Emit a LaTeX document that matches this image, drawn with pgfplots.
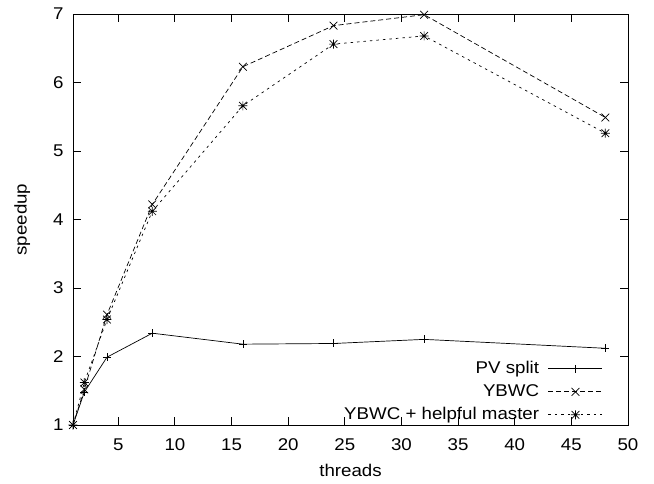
\documentclass[border=0pt]{standalone}
\usepackage{fontspec}
\setmainfont[FakeStretch=1.1]{Liberation Sans}
\usepackage{pgfplots}
\pgfplotsset{compat=1.18}

% gnuplot style star: a + and an x on top of each other
\pgfdeclareplotmark{gpstar}{%
  \pgfpathmoveto{\pgfqpoint{-\pgfplotmarksize}{0pt}}%
  \pgfpathlineto{\pgfqpoint{\pgfplotmarksize}{0pt}}%
  \pgfpathmoveto{\pgfqpoint{0pt}{-\pgfplotmarksize}}%
  \pgfpathlineto{\pgfqpoint{0pt}{\pgfplotmarksize}}%
  \pgfpathmoveto{\pgfqpoint{-.85\pgfplotmarksize}{-.85\pgfplotmarksize}}%
  \pgfpathlineto{\pgfqpoint{.85\pgfplotmarksize}{.85\pgfplotmarksize}}%
  \pgfpathmoveto{\pgfqpoint{-.85\pgfplotmarksize}{.85\pgfplotmarksize}}%
  \pgfpathlineto{\pgfqpoint{.85\pgfplotmarksize}{-.85\pgfplotmarksize}}%
  \pgfusepathqstroke}

\begin{document}
\begin{tikzpicture}
\path[use as bounding box] (-73bp,-59bp) rectangle (581bp,425bp);
\begin{axis}[
    at={(0,0)}, anchor=south west,
    scale only axis,
    width=555bp, height=411bp,
    xmin=1, xmax=50,
    ymin=1, ymax=7,
    xtick={5,10,...,50},
    ytick={1,2,...,7},
    tick align=inside,
    tick pos=both,
    major tick length=8bp,
    axis line style={line width=0.9pt},
    every tick/.style={black, line width=0.9pt},
    /pgf/number format/assume math mode=true,
    tick label style={font=\fontsize{17bp}{20bp}\selectfont},
    xticklabel style={yshift=-10bp},
    yticklabel style={xshift=-6bp},
    label style={font=\fontsize{17bp}{20bp}\selectfont},
    xlabel style={yshift=-7bp},
    ylabel style={yshift=16bp},
    xlabel={threads},
    ylabel={speedup},
    legend style={font=\fontsize{17bp}{20bp}\selectfont, draw=none, fill=none,
        at={(rel axis cs:1,0)}, anchor=south east, xshift=-22bp, yshift=-1bp,
        nodes={inner sep=1bp, text height=12.5bp, text depth=3.5bp},
        row sep=5bp,
        /tikz/every odd column/.append style={column sep=8bp}},
    legend cell align=right,
    legend plot pos=right,
    legend image code/.code={%
        \draw[mark repeat=2, mark phase=2, #1]
        plot coordinates {(0bp,0bp) (27bp,0bp) (54bp,0bp)};},
]
\addplot[black, line width=0.7pt, mark=+, mark size=4bp, mark options={solid}]
    coordinates {(1,1) (2,1.48) (4,1.99) (8,2.34) (16,2.18) (24,2.19) (32,2.25) (48,2.12)};
\addlegendentry{PV split}
\addplot[black, line width=0.7pt, dash pattern=on 5bp off 3bp, mark=x, mark size=5.5bp, mark options={solid}]
    coordinates {(1,1) (2,1.52) (4,2.61) (8,4.22) (16,6.23) (24,6.83) (32,6.99) (48,5.49)};
\addlegendentry{YBWC}
\addplot[black, line width=0.7pt, dash pattern=on 2.5bp off 4bp, mark=gpstar, mark size=4.5bp, mark options={solid}]
    coordinates {(1,1) (2,1.62) (4,2.54) (8,4.12) (16,5.66) (24,6.56) (32,6.68) (48,5.26)};
\addlegendentry{YBWC + helpful master}
\end{axis}
\end{tikzpicture}
\end{document}
